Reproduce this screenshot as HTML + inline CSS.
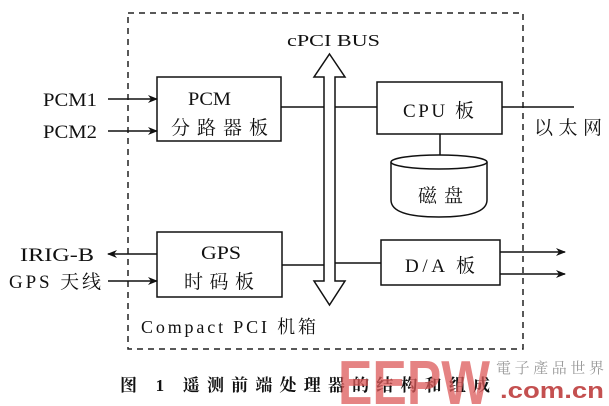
<!DOCTYPE html>
<html><head><meta charset="utf-8"><style>
body{margin:0;background:#fff;}
svg{display:block;}
text{font-family:"Liberation Serif","Noto Serif CJK SC",serif;fill:#111;}
</style></head><body>
<svg width="609" height="406" viewBox="0 0 609 406" xmlns="http://www.w3.org/2000/svg">
<defs><marker id="a" markerWidth="10" markerHeight="8" refX="9" refY="4" orient="auto" markerUnits="userSpaceOnUse"><path d="M0,0 L10,4 L0,8 L3,4 Z" fill="#111"/></marker></defs>
<rect x="128" y="13" width="395" height="336" fill="none" stroke="#222" stroke-width="1.5" stroke-dasharray="6,5"/>
<text x="287" y="46" font-size="17" textLength="93" lengthAdjust="spacingAndGlyphs">cPCI BUS</text>
<path d="M329.5,54 L345,77 L335,77 L335,281 L345,281 L329.5,305 L314,281 L324,281 L324,77 L314,77 Z" fill="#fff" stroke="#111" stroke-width="1.5"/>
<g stroke="#111" stroke-width="1.5" fill="#fff">
<rect x="157" y="77" width="124" height="64"/>
<rect x="377" y="82" width="125" height="52"/>
<rect x="381" y="240" width="119" height="45"/>
<rect x="157" y="232" width="125" height="65"/>
<path d="M391,162 L391,200 Q391,217 439,217 Q487,217 487,200 L487,162"/>
<ellipse cx="439" cy="162" rx="48" ry="7"/>
</g>
<g stroke="#111" stroke-width="1.5" fill="none">
<line x1="281" y1="107" x2="324" y2="107"/><line x1="335" y1="107" x2="377" y2="107"/>
<line x1="502" y1="107" x2="574" y2="107"/><line x1="440" y1="134" x2="440" y2="155"/>
<line x1="282" y1="265" x2="324" y2="265"/><line x1="335" y1="263" x2="381" y2="263"/>
<line x1="500" y1="252" x2="565" y2="252" marker-end="url(#a)"/>
<line x1="500" y1="274" x2="565" y2="274" marker-end="url(#a)"/>
<line x1="108" y1="99" x2="157" y2="99" marker-end="url(#a)"/>
<line x1="108" y1="131" x2="157" y2="131" marker-end="url(#a)"/>
<line x1="157" y1="254" x2="108" y2="254" marker-end="url(#a)"/>
<line x1="108" y1="281" x2="157" y2="281" marker-end="url(#a)"/>
</g>
<g font-size="19">
<text x="188" y="105" textLength="43" lengthAdjust="spacingAndGlyphs">PCM</text>
<text x="171" y="134" textLength="97" lengthAdjust="spacing">分路器板</text>
<text x="403" y="117" textLength="71" lengthAdjust="spacing">CPU 板</text>
<text x="418" y="202" textLength="45" lengthAdjust="spacing">磁盘</text>
<text x="405" y="272" textLength="70" lengthAdjust="spacing">D/A 板</text>
<text x="201" y="259" textLength="40" lengthAdjust="spacingAndGlyphs">GPS</text>
<text x="184" y="288" textLength="70" lengthAdjust="spacing">时码板</text>
<text x="43" y="106" textLength="54" lengthAdjust="spacingAndGlyphs">PCM1</text>
<text x="43" y="138" textLength="54" lengthAdjust="spacingAndGlyphs">PCM2</text>
<text x="20" y="261" textLength="74" lengthAdjust="spacingAndGlyphs">IRIG-B</text>
<text x="9" y="288" textLength="92" lengthAdjust="spacing">GPS 天线</text>
<text x="534" y="134" textLength="68" lengthAdjust="spacing">以太网</text>
<text x="141" y="333" font-size="18" textLength="175" lengthAdjust="spacing">Compact PCI 机箱</text>
<text x="120" y="391" font-size="17" font-weight="bold" textLength="370" lengthAdjust="spacing">图 1 遥测前端处理器的结构和组成</text>
</g>
<text x="338" y="404" style="font-family:'Liberation Sans',sans-serif;fill:rgba(220,90,90,0.75)" font-size="62" font-weight="bold" textLength="152" lengthAdjust="spacingAndGlyphs">EEPW</text>
<text x="496" y="373" font-size="15" style="fill:#999" textLength="108" lengthAdjust="spacing">電子產品世界</text>
<text x="500" y="398" style="font-family:'Liberation Sans',sans-serif;fill:#c45050" font-size="22" font-weight="bold" textLength="104" lengthAdjust="spacingAndGlyphs">.com.cn</text>
</svg>
</body></html>
